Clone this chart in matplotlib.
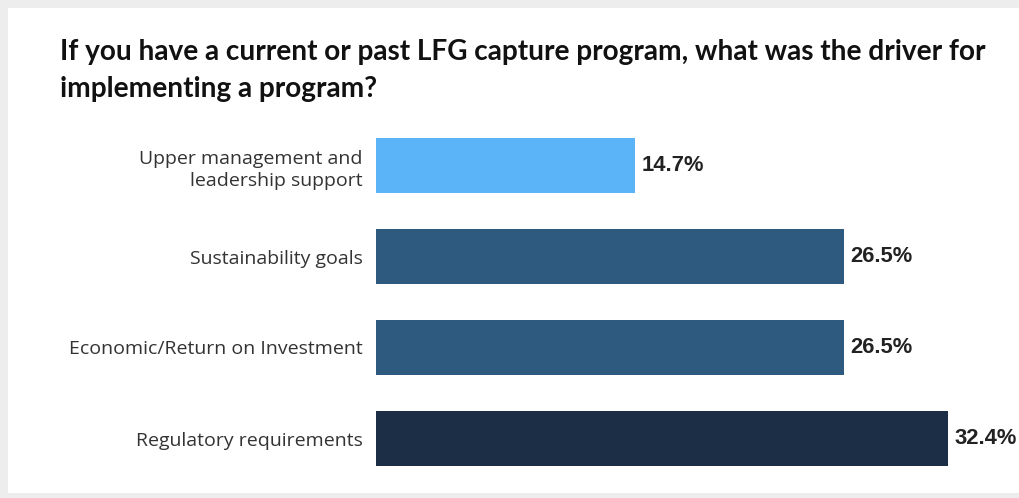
import matplotlib.pyplot as plt
from matplotlib.patches import Rectangle

categories = ['Upper management and\nleadership support', 'Sustainability goals',
              'Economic/Return on Investment', 'Regulatory requirements']
values = [14.7, 26.5, 26.5, 32.4]
colors = ['#5BB3F8', '#2E5A80', '#2E5A80', '#1C2E45']
title = 'If you have a current or past LFG capture program, what was the driver for\nimplementing a program?'

fig = plt.figure(figsize=(10.2, 4.98), dpi=100, facecolor='#EDEDED')
# white card on the grey frame
fig.patches.append(Rectangle((8/1020, 5/498), 1, 1 - 13/498, transform=fig.transFigure,
                             facecolor='white', edgecolor='none', zorder=-5))

ax = fig.add_axes([376/1020, 1 - 484/498, 36*17.65/1020, 364/498])
ax.set_facecolor('none')
pos = range(len(categories))
ax.barh(pos, values, height=0.6, color=colors)
for p, v in zip(pos, values):
    ax.text(v + 0.35, p, f'{v}%', va='center', ha='left', fontsize=15.8,
            fontweight='bold', family='Liberation Sans', color='#222222')

ax.set_xlim(0, 36)
ax.set_ylim(3.5, -0.5)
ax.set_xticks([])
ax.set_yticks(list(pos))
ax.set_yticklabels(categories, fontsize=14, family='Open Sans', color='#333333',
                   linespacing=1.3)
ax.tick_params(axis='y', length=0, pad=9.4)
for s in ax.spines.values():
    s.set_visible(False)

fig.text(60/1020, 1 - 39/498, title, ha='left', va='top', fontsize=20.2,
         fontweight='bold', family='Lato', color='#111111', linespacing=1.5)

fig.savefig('out.png', dpi=100, facecolor=fig.get_facecolor())
